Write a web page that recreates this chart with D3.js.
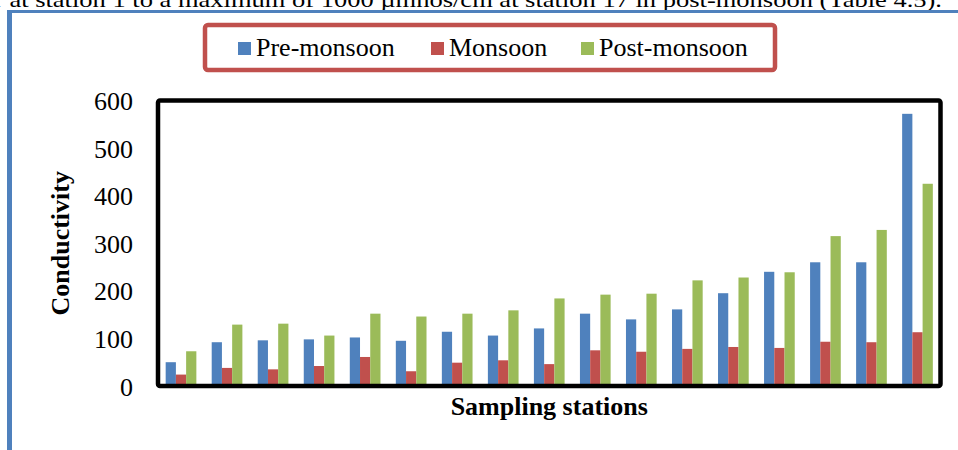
<!DOCTYPE html>
<html>
<head>
<meta charset="utf-8">
<script src="https://d3js.org/d3.v7.min.js"></script>
<style>
  body { margin: 0; background: #fff; }
  svg { display: block; font-family: "Liberation Serif", "Times New Roman", serif; }
  .y.axis .domain, .y.axis line { display: none; }
  .y.axis text { font-family: "Liberation Serif", "Times New Roman", serif; font-size: 26px; fill: #000; }
</style>
</head>
<body>
<div id="chart"></div>
<script>

var stations = d3.range(1, 18);
var seriesNames = ["Pre-monsoon", "Monsoon", "Post-monsoon"];
var preMonsoon = [50, 92, 96, 98, 102, 95, 114, 106, 121, 152, 140, 161, 195, 240, 260, 260, 572];
var monsoon = [24, 38, 35, 42, 61, 31, 49, 54, 46, 75, 72, 78, 82, 80, 93, 92, 113];
var postMonsoon = [73, 129, 131, 106, 152, 146, 152, 159, 184, 192, 194, 222, 228, 239, 315, 328, 425];
var yTicks = [0, 100, 200, 300, 400, 500, 600];

var data = stations.map(function(s, i) {
  return {station: s, values: [preMonsoon[i], monsoon[i], postMonsoon[i]]};
});

var width = 958, height = 450;
var plot = {left: 158, right: 940.5, top: 100.5, bottom: 386};

var color = d3.scaleOrdinal()
    .domain(seriesNames)
    .range(["#4f81bd", "#c0504d", "#9bbb59"]);

var x0 = d3.scaleBand()
    .domain(stations)
    .range([plot.left, plot.right])
    .paddingInner(1 / 3)
    .paddingOuter(1 / 6);

var x1 = d3.scaleBand()
    .domain(d3.range(seriesNames.length))
    .range([0, x0.bandwidth()]);

var y = d3.scaleLinear()
    .domain([0, 600])
    .range([plot.bottom, plot.top]);

var svg = d3.select("#chart").append("svg")
    .attr("width", width)
    .attr("height", height);

// page text cut off above the figure
svg.append("text")
    .attr("x", -6)
    .attr("y", 6.5)
    .attr("textLength", 948)
    .attr("lengthAdjust", "spacingAndGlyphs")
    .style("font-size", "22px")
    .text("r at station 1 to a maximum of 1000 \u00b5mhos/cm at station 17 in post-monsoon (Table 4.5).");

// blue figure frame
svg.append("rect")
    .attr("x", 7).attr("y", 10)
    .attr("width", 5).attr("height", height - 10)
    .style("fill", "#4f81bd");
svg.append("rect")
    .attr("x", 7).attr("y", 10)
    .attr("width", width - 7).attr("height", 3)
    .style("fill", "#4f81bd");

// legend
var legend = svg.append("g").attr("class", "legend");
legend.append("rect")
    .attr("x", 205).attr("y", 25)
    .attr("width", 570).attr("height", 45)
    .attr("rx", 3)
    .style("fill", "#fff")
    .style("stroke", "#c0504d")
    .style("stroke-width", 4.5);

var legendX = [238, 431, 581];
var item = legend.selectAll(".item")
    .data(seriesNames)
  .enter().append("g")
    .attr("class", "item")
    .attr("transform", function(d, i) { return "translate(" + legendX[i] + ",0)"; });
item.append("rect")
    .attr("y", 42)
    .attr("width", 13).attr("height", 13)
    .style("fill", function(d) { return color(d); });
item.append("text")
    .attr("x", 18)
    .attr("y", 56)
    .style("font-size", "26px")
    .text(function(d) { return d; });

// y axis labels
var yAxis = svg.append("g")
    .attr("class", "y axis")
    .attr("transform", "translate(" + plot.left + ",0)")
    .call(d3.axisLeft(y).tickValues(yTicks).tickSize(0).tickPadding(25));
yAxis.attr("font-family", null).attr("font-size", null);
yAxis.selectAll("text").attr("dy", "0.35em");

// bars
var group = svg.append("g").selectAll(".station")
    .data(data)
  .enter().append("g")
    .attr("class", "station")
    .attr("transform", function(d) { return "translate(" + x0(d.station) + ",0)"; });

group.selectAll("rect")
    .data(function(d) { return d.values; })
  .enter().append("rect")
    .attr("x", function(d, i) { return x1(i); })
    .attr("width", x1.bandwidth())
    .attr("y", function(d) { return y(d); })
    .attr("height", function(d) { return y(0) + 1 - y(d); })
    .style("fill", function(d, i) { return color(seriesNames[i]); });

// plot frame
svg.append("rect")
    .attr("x", plot.left).attr("y", plot.top)
    .attr("width", plot.right - plot.left)
    .attr("height", plot.bottom - plot.top)
    .attr("rx", 2)
    .style("fill", "none")
    .style("stroke", "#000")
    .style("stroke-width", 4.5);

// axis titles
svg.append("text")
    .attr("transform", "translate(69," + (plot.top + plot.bottom) / 2 + ") rotate(-90)")
    .style("text-anchor", "middle")
    .style("font-size", "26px")
    .style("font-weight", "bold")
    .text("Conductivity");

svg.append("text")
    .attr("x", (plot.left + plot.right) / 2)
    .attr("y", 415)
    .style("text-anchor", "middle")
    .style("font-size", "26px")
    .style("font-weight", "bold")
    .text("Sampling stations");

</script>
</body>
</html>
